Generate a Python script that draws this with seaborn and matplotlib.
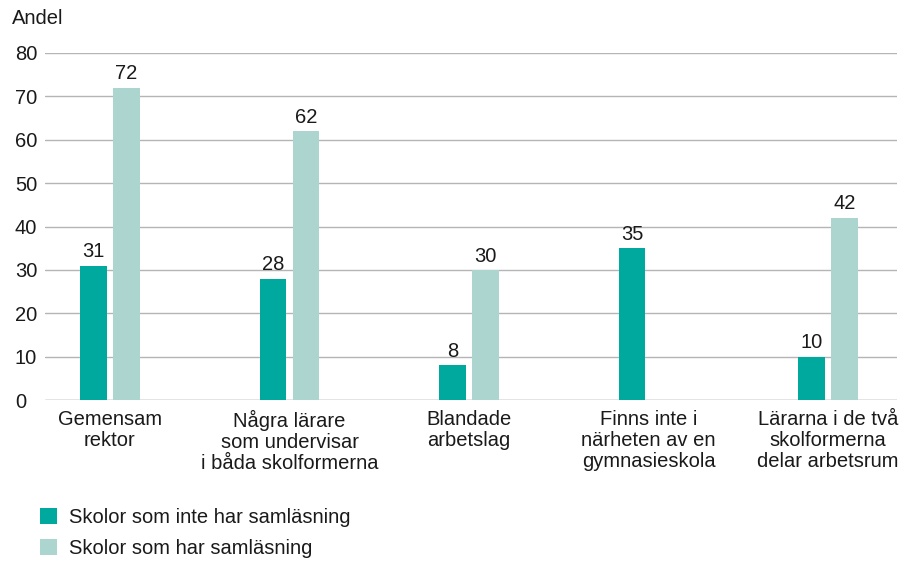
import matplotlib
matplotlib.use("Agg")
import matplotlib.pyplot as plt
import seaborn as sns
import pandas as pd
from matplotlib.patches import Patch

categories = ["Gemensam\nrektor", "Några lärare\nsom undervisar\ni båda skolformerna",
              "Blandade\narbetslag", "Finns inte i\nnärheten av en\ngymnasieskola",
              "Lärarna i de två\nskolformerna\ndelar arbetsrum"]
series_names = ["Skolor som inte har samläsning", "Skolor som har samläsning"]
values_no = [31, 28, 8, 35, 10]
values_yes = [72, 62, 30, 0, 42]
yticks = [0, 10, 20, 30, 40, 50, 60, 70, 80]
colors = ["#00A99D", "#ADD5D0"]

df = pd.DataFrame({
    "cat": categories * 2,
    "serie": [series_names[0]] * 5 + [series_names[1]] * 5,
    "val": values_no + values_yes,
})

sns.set_style("white")
plt.rcParams["font.family"] = ["Liberation Sans", "DejaVu Sans"]
FS = 14.5
TC = "#1a1a1a"

fig = plt.figure(figsize=(9.1, 5.63), dpi=100)
ax = fig.add_axes([45 / 910, 163 / 563, 852 / 910, 347 / 563])

sns.barplot(data=df, x="cat", y="val", hue="serie", palette=colors,
            width=0.368, gap=0.185, ax=ax, legend=False, saturation=1,
            linewidth=0, zorder=3)

for i, cont in enumerate(ax.containers):
    vals = [values_no, values_yes][i]
    for bar, v in zip(cont, vals):
        if v == 0:
            continue
        ax.text(bar.get_x() + bar.get_width() / 2, v + 1.0, str(v),
                ha="center", va="bottom", fontsize=FS, color=TC)

ax.set_ylim(0, 80)
ax.set_xlim(-0.362, 4.384)
ax.set_yticks(yticks)
for y in yticks:
    ax.axhline(y, color="#7a7a7a" if y == 0 else "#b5b5b5", lw=1.0, zorder=1)
for s in ax.spines.values():
    s.set_visible(False)
ax.tick_params(axis="y", length=0, pad=21.6, labelsize=FS, labelcolor=TC)
ax.tick_params(axis="x", length=0, pad=7.5, labelsize=FS, labelcolor=TC)
for lab in ax.get_yticklabels():
    lab.set_horizontalalignment("left")
ax.set_xlabel("")
ax.set_ylabel("")
for lab in ax.get_xticklabels():
    lab.set_linespacing(1.12)

fig.text(12 / 910, 1 - 18 / 563, "Andel", fontsize=FS, va="center", ha="left", color=TC)

handles = [Patch(facecolor=c, edgecolor="none") for c in colors]
fig.legend(handles, series_names, loc="upper left", bbox_to_anchor=(40 / 910, 1 - 508 / 563),
           frameon=False, fontsize=FS, handlelength=0.85, handleheight=0.85,
           handletextpad=0.6, labelspacing=0.6, borderaxespad=0, borderpad=0,
           labelcolor=TC)

fig.savefig("out.png", dpi=100)
